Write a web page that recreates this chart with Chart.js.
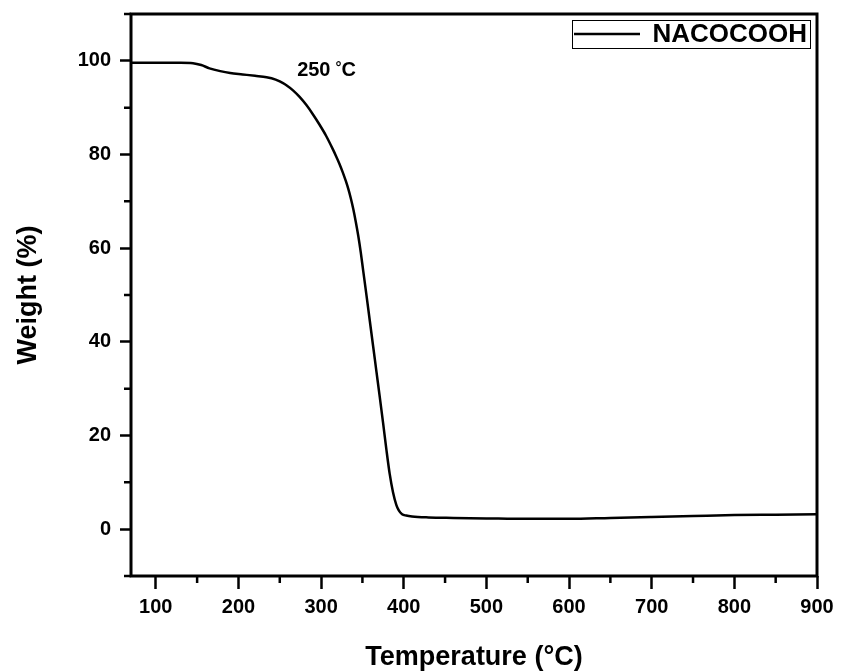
<!DOCTYPE html>
<html>
<head>
<meta charset="utf-8">
<script src="https://cdn.jsdelivr.net/npm/chart.js@4.4.1/dist/chart.umd.min.js"></script>
<style>
  html, body { margin: 0; padding: 0; background: #fff; }
  #wrap { width: 841px; height: 671px; }
</style>
</head>
<body>
<div id="wrap"><canvas id="tga"></canvas></div>
<script>
// TGA curve
let temperature = [70, 100, 130, 145, 155, 165, 178, 190, 205, 220, 234, 245, 250, 258, 266, 274, 282, 290, 298, 306,
    314, 318, 322, 326, 330, 333, 336, 339, 342, 345, 348, 351, 355, 359, 363, 367, 371, 375, 379, 383,
    387, 391, 394, 398, 403, 410, 430, 460, 500, 550, 600, 650, 700, 750, 800, 850, 900];
let weight = [99.6, 99.6, 99.6, 99.5, 99.1, 98.4, 97.8, 97.4, 97.1, 96.8, 96.5, 96.0, 95.6, 94.8, 93.7, 92.3, 90.6, 88.6, 86.4, 84.0,
    81.2, 79.7, 78.1, 76.3, 74.3, 72.6, 70.6, 68.3, 65.6, 62.6, 59.1, 55.1, 49.8, 44.4, 39.0, 33.6, 28.2, 22.7, 17.0, 11.8,
    7.9, 5.2, 4.0, 3.2, 2.9, 2.7, 2.5, 2.4, 2.3, 2.2, 2.2, 2.4, 2.6, 2.8, 3.0, 3.1, 3.2];

// tick labels
let xTicks = [100, 200, 300, 400, 500, 600, 700, 800, 900];
let xMinor = [150, 250, 350, 450, 550, 650, 750, 850];
let yTicks = [0, 20, 40, 60, 80, 100];
let yMinor = [-10, 10, 30, 50, 70, 90, 110];

let seriesName = 'NACOCOOH';
let noteValue = '250';
let noteUnit = ['°', 'C'];

const FONT = 'Liberation Sans, Arial, sans-serif';

// minor ticks, frame, legend box and the 250 °C note
const extras = {
    id: 'extras',
    afterDraw(chart) {
        const ctx = chart.ctx;
        const a = chart.chartArea;
        const x = chart.scales.x, y = chart.scales.y;
        ctx.save();
        ctx.strokeStyle = '#000';
        ctx.lineWidth = 2.5;
        ctx.beginPath();
        xMinor.forEach(v => {
            const px = x.getPixelForValue(v);
            ctx.moveTo(px, a.bottom);
            ctx.lineTo(px, a.bottom + 7);
        });
        yMinor.forEach(v => {
            const py = y.getPixelForValue(v);
            ctx.moveTo(a.left, py);
            ctx.lineTo(a.left - 7, py);
        });
        ctx.stroke();

        // frame
        ctx.lineWidth = 3;
        ctx.strokeRect(a.left, a.top, a.right - a.left, a.bottom - a.top);

        // legend
        const bx = a.right - 245, by = a.top + 6, bw = 238, bh = 28;
        ctx.lineWidth = 1;
        ctx.strokeRect(bx + 0.5, by + 0.5, bw, bh);
        ctx.lineWidth = 2.5;
        ctx.beginPath();
        ctx.moveTo(bx + 2, by + 14);
        ctx.lineTo(bx + 68, by + 14);
        ctx.stroke();
        ctx.fillStyle = '#000';
        ctx.font = 'bold 26px ' + FONT;
        ctx.textBaseline = 'middle';
        ctx.textAlign = 'right';
        ctx.fillText(seriesName, bx + bw - 3, by + 15);

        // note: 250 with a raised degree sign
        ctx.textAlign = 'left';
        ctx.textBaseline = 'alphabetic';
        const nx = x.getPixelForValue(271), ny = y.getPixelForValue(96.7);
        ctx.font = 'bold 20px ' + FONT;
        ctx.fillText(noteValue, nx, ny);
        const w = ctx.measureText(noteValue).width;
        ctx.font = 'bold 15px ' + FONT;
        ctx.fillText(noteUnit[0], nx + w + 5, ny - 4);
        ctx.font = 'bold 20px ' + FONT;
        ctx.fillText(noteUnit[1], nx + w + 11, ny);
        ctx.restore();
    }
};

let ctx = document.getElementById('tga').getContext('2d');

let chart = new Chart(ctx, {
    type: 'line',
    data: {
        datasets: [{
            label: seriesName,
            data: temperature.map((t, i) => ({x: t, y: weight[i]})),
            borderColor: '#000',
            borderWidth: 2.5,
            pointRadius: 0,
            fill: false,
            cubicInterpolationMode: 'monotone'
        }]
    },
    options: {
        responsive: true,
        maintainAspectRatio: false,
        animation: false,
        layout: { padding: { top: 14, right: 24, left: 0, bottom: 0 } },
        plugins: {
            legend: { display: false },
            tooltip: { enabled: false }
        },
        scales: {
            x: {
                type: 'linear',
                min: 70,
                max: 900,
                afterBuildTicks: s => { s.ticks = xTicks.map(v => ({value: v})); },
                afterFit: s => { s.height = 95; },
                grid: { drawOnChartArea: false, drawTicks: true, tickLength: 13, tickWidth: 2.5, tickColor: '#000' },
                border: { display: false },
                ticks: { color: '#000', padding: 6, maxRotation: 0, font: { family: FONT, size: 20, weight: 'bold' } },
                title: {
                    display: true,
                    text: 'Temperature (°C)',
                    color: '#000',
                    padding: { top: 0, bottom: -3 },
                    font: { family: FONT, size: 27, weight: 'bold' }
                }
            },
            y: {
                type: 'linear',
                min: -10,
                max: 110,
                afterBuildTicks: s => { s.ticks = yTicks.map(v => ({value: v})); },
                afterFit: s => { s.width = 131; s.paddingTop = 0; s.paddingBottom = 0; },
                grid: { drawOnChartArea: false, drawTicks: true, tickLength: 11, tickWidth: 2.5, tickColor: '#000' },
                border: { display: false },
                ticks: { color: '#000', padding: 9, font: { family: FONT, size: 20, weight: 'bold' } },
                title: {
                    display: true,
                    text: 'Weight (%)',
                    color: '#000',
                    padding: 12,
                    font: { family: FONT, size: 27, weight: 'bold' }
                }
            }
        }
    },
    plugins: [extras]
});
</script>
</body>
</html>
